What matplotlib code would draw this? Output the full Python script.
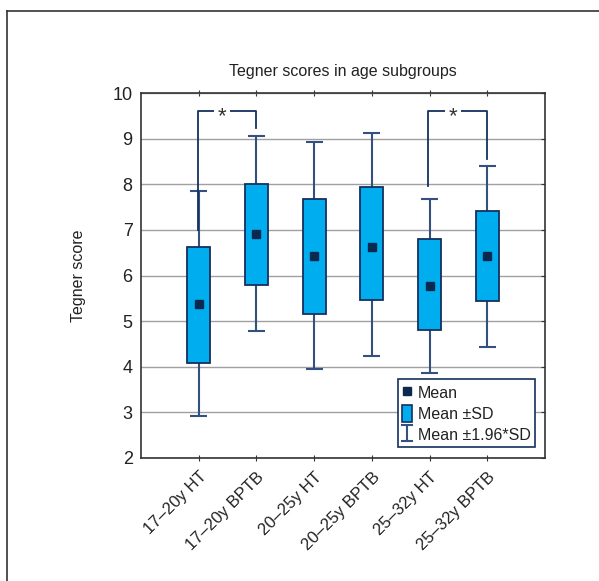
import numpy as np
import matplotlib
matplotlib.use("Agg")
import matplotlib.pyplot as plt
from matplotlib.patches import Patch
from matplotlib.lines import Line2D

plt.rcParams['font.family'] = ['Liberation Sans', 'DejaVu Sans']

categories = ["17–20y HT", "17–20y BPTB", "20–25y HT", "20–25y BPTB", "25–32y HT", "25–32y BPTB"]
means    = [5.37, 6.91, 6.43, 6.62, 5.77, 6.43]
sd_low   = [4.08, 5.80, 5.15, 5.46, 4.80, 5.44]
sd_high  = [6.62, 8.00, 7.67, 7.93, 6.79, 7.42]
ci_low   = [2.91, 4.78, 3.95, 4.23, 3.87, 4.43]
ci_high  = [7.86, 9.05, 8.92, 9.13, 7.67, 8.41]
# significance brackets: (group a, group b, leg a bottom, leg b bottom, bracket height)
brackets = [(1, 2, 7.0, 9.23, 9.6), (5, 6, 7.96, 8.55, 9.6)]

fill = "#00aeef"
edge = "#14305e"
wcol = "#34507e"
mcol = "#0b2850"
tcol = "#222222"

fig = plt.figure(figsize=(5.99, 5.81), dpi=100)
# outer partial frame
fig.add_artist(Line2D([7/599, 7/599], [0, 1 - 11/581], transform=fig.transFigure, color="#333333", lw=1.2))
fig.add_artist(Line2D([7/599, 1], [1 - 11/581, 1 - 11/581], transform=fig.transFigure, color="#333333", lw=1.2))

ax = fig.add_axes([141/599, 1 - 458/581, 404/599, 365/581])
x = np.arange(1, len(categories) + 1)

ax.set_xlim(0, 7)
ax.set_ylim(2, 10)
ax.set_yticks(range(2, 11))
ax.yaxis.grid(True, color="#a0a0a0", lw=1.0)
ax.set_axisbelow(True)

# whiskers
ax.vlines(x, ci_low, ci_high, color=wcol, lw=1.5, zorder=2)
ax.hlines(ci_low, x - 0.145, x + 0.145, color=wcol, lw=1.5, zorder=2)
ax.hlines(ci_high, x - 0.145, x + 0.145, color=wcol, lw=1.5, zorder=2)
# boxes
ax.bar(x, np.array(sd_high) - np.array(sd_low), bottom=sd_low, width=0.4,
       color=fill, edgecolor=edge, lw=1.3, zorder=3)
# means
ax.plot(x, means, 's', color=mcol, ms=6, zorder=4)

# significance brackets
for a, b, la, lb, h in brackets:
    ax.plot([a - 0.02, a - 0.02, b, b], [la, h, h, lb], color=edge, lw=1.3, zorder=5)
    ax.text((a + b) / 2 - 0.1, h - 0.12, "*", ha="center", va="center", fontsize=16,
            color="#333333", zorder=6,
            bbox=dict(facecolor="white", edgecolor="none", pad=2.5))

ax.set_xticks(x)
ax.set_xticklabels(categories, rotation=45, ha="right", va="top", rotation_mode="anchor",
                   fontsize=12, color=tcol)
ax.tick_params(axis="x", direction="inout", length=4, top=True, bottom=True, color="#333333", pad=6)
ax.tick_params(axis="y", direction="in", length=3, left=False, right=True, labelsize=13, color="#333333",
               labelcolor=tcol, pad=6)
for s in ax.spines.values():
    s.set_color("#333333")
    s.set_linewidth(1.2)

ax.set_title("Tegner scores in age subgroups", fontsize=11.5, color=tcol, pad=12)
ax.set_ylabel("Tegner score", fontsize=11.5, color=tcol, labelpad=19)

# legend
eb = ax.errorbar([np.nan], [np.nan], yerr=[1], fmt="none", ecolor=wcol, capsize=4, elinewidth=1.5,
                 capthick=1.5, label="Mean ±1.96*SD")
handles = [Line2D([], [], marker="s", color=mcol, ls="none", ms=6, label="Mean"),
           Patch(facecolor=fill, edgecolor=edge, lw=1.2, label="Mean ±SD"),
           eb]
leg = ax.legend(handles=handles, loc="upper left", bbox_to_anchor=(0.635, 0.216), borderaxespad=0,
                fancybox=False, framealpha=1, edgecolor=edge, fontsize=11.5, handlelength=0.6,
                handleheight=1.25, handletextpad=0.35, labelspacing=0.25, borderpad=0.3)
leg.get_frame().set_linewidth(1.2)
for t in leg.get_texts():
    t.set_color(tcol)

fig.savefig("out.png", dpi=100, facecolor="white")
